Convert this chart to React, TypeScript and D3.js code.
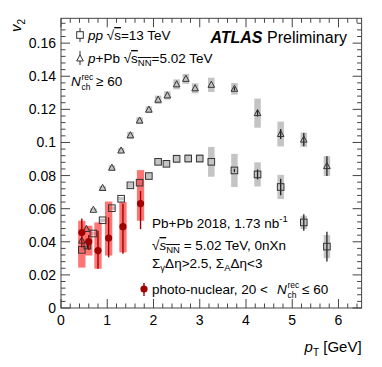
import React from "react";
import * as d3 from "d3";

const W = 382, H = 367;
const X_MAX = 6.5, Y_MAX = 0.175;
const xTicks = [0, 1, 2, 3, 4, 5, 6];
const yTicks = [0, 0.02, 0.04, 0.06, 0.08, 0.1, 0.12, 0.14, 0.16];
const yTickLabels = ["0", "0.02", "0.04", "0.06", "0.08", "0.1", "0.12", "0.14", "0.16"];

// pp 13 TeV
const ppX = [0.45, 0.57, 0.7, 0.9, 1.1, 1.3, 1.5, 1.7, 1.9, 2.1, 2.28, 2.5, 2.75, 3.0, 3.25, 3.75, 4.25, 4.75, 5.25, 5.75];
const ppV = [0.0351, 0.0377, 0.045, 0.053, 0.0603, 0.066, 0.0741, 0.0757, 0.0797, 0.0883, 0.0871, 0.0901, 0.0903, 0.0903, 0.0883, 0.0831, 0.0807, 0.0731, 0.0517, 0.0371];
const ppStat = [0, 0.002, 0, 0, 0, 0, 0, 0, 0, 0, 0, 0, 0, 0, 0, 0.001, 0.003, 0.005, 0.005, 0.009];
const ppSys = [0.001, 0.001, 0.001, 0.001, 0.001, 0.001, 0.0015, 0.002, 0.002, 0.002, 0.002, 0.0025, 0.0025, 0.0025, 0.009, 0.01, 0.0073, 0.0073, 0.004, 0.007];

// p+Pb 5.02 TeV
const pPbX = [0.45, 0.55, 0.7, 0.9, 1.1, 1.3, 1.5, 1.7, 1.9, 2.1, 2.3, 2.5, 2.7, 2.9, 3.25, 3.75, 4.25, 4.75, 5.25, 5.75];
const pPbV = [0.0407, 0.0477, 0.0593, 0.0725, 0.0847, 0.0951, 0.1043, 0.1132, 0.1198, 0.1258, 0.1284, 0.1351, 0.1384, 0.1327, 0.1348, 0.1324, 0.1177, 0.1051, 0.1017, 0.0857];
const pPbStat = [0, 0, 0, 0, 0, 0, 0, 0, 0, 0, 0, 0, 0, 0, 0, 0.001, 0.002, 0.003, 0.004, 0.006];
const pPbSys = [0.001, 0.001, 0.001, 0.0012, 0.0015, 0.0015, 0.002, 0.002, 0.002, 0.0025, 0.0025, 0.003, 0.003, 0.003, 0.0043, 0.0035, 0.0088, 0.0075, 0.0043, 0.006];

// Pb+Pb photo-nuclear
const pnX = [0.45, 0.6, 0.8, 1.03, 1.34, 1.72];
const pnV = [0.0456, 0.0401, 0.0347, 0.0423, 0.0491, 0.0631];
const pnErrUp = [0.0084, 0.004, 0.012, 0.0124, 0.0139, 0.0076];
const pnErrDn = [0.009, 0.005, 0.011, 0.0117, 0.0163, 0.0155];
const pnSysLo = [0.0244, 0.0317, 0.0237, 0.0317, 0.0336, 0.0527];
const pnSysHi = [0.0527, 0.0497, 0.0517, 0.0643, 0.064, 0.0833];

const FONT = "'Liberation Sans', Arial, Helvetica, sans-serif";

function NchLabel({ x, y, suffix }: { x: number; y: number; suffix: string }) {
  return (
    <g>
      <text x={x} y={y} fontSize={13.5} fontStyle="italic">N</text>
      <text x={x + 10.5} y={y - 6.5} fontSize={8.5}>rec</text>
      <text x={x + 10.5} y={y + 4} fontSize={8.5}>ch</text>
      <text x={x + 25} y={y} fontSize={13.5}>{suffix}</text>
    </g>
  );
}

export default function App() {
  const L = 61, R = 361.6, T = 18.3, B = 308;
  const x = d3.scaleLinear().domain([0, X_MAX]).range([L, R]);
  const y = d3.scaleLinear().domain([0, Y_MAX]).range([B, T]);
  const xMinor = d3.range(0, X_MAX + 1e-9, 0.2);
  const yMinor = d3.range(0, Y_MAX + 1e-9, 0.004);
  const bandW = 6.5;
  const redW = 7.3;
  const mk = 3.3;
  const tri = (cx: number, cy: number, s: number) =>
    `M${cx},${cy - s * 1.1} L${cx + s},${cy + s * 0.75} L${cx - s},${cy + s * 0.75} Z`;
  const mkStroke = "#333";

  return (
    <svg width={W} height={H} style={{ position: "absolute", left: 0, top: 0, background: "#fff" }} fontFamily={FONT}>
      <rect x={0} y={0} width={W} height={H} fill="#fff" />
      {pPbX.map((v, i) => (
        <rect key={"pb" + i} x={x(v) - bandW / 2} y={y(pPbV[i] + pPbSys[i])} width={bandW}
          height={y(pPbV[i] - pPbSys[i]) - y(pPbV[i] + pPbSys[i])} fill="#c4c4c4" />
      ))}
      {ppX.map((v, i) => (
        <rect key={"pp" + i} x={x(v) - bandW / 2} y={y(ppV[i] + ppSys[i])} width={bandW}
          height={y(ppV[i] - ppSys[i]) - y(ppV[i] + ppSys[i])} fill="#c4c4c4" />
      ))}
      {pnX.map((v, i) => (
        <rect key={"rb" + i} x={x(v) - redW / 2} y={y(pnSysHi[i])} width={redW}
          height={y(pnSysLo[i]) - y(pnSysHi[i])} fill="#ff3b3b" fillOpacity={0.7} />
      ))}
      {pPbX.map((v, i) => pPbStat[i] > 0 ? (
        <line key={"pbs" + i} x1={x(v)} x2={x(v)} y1={y(pPbV[i] + pPbStat[i])} y2={y(pPbV[i] - pPbStat[i])} stroke="#222" strokeWidth={1.3} />
      ) : null)}
      {ppX.map((v, i) => ppStat[i] > 0 ? (
        <line key={"pps" + i} x1={x(v)} x2={x(v)} y1={y(ppV[i] + ppStat[i])} y2={y(ppV[i] - ppStat[i])} stroke="#222" strokeWidth={1.3} />
      ) : null)}
      {pPbX.map((v, i) => (
        <path key={"pbm" + i} d={tri(x(v), y(pPbV[i]), mk)} fill="none" stroke={mkStroke} strokeWidth={1} />
      ))}
      {ppX.map((v, i) => (
        <rect key={"ppm" + i} x={x(v) - mk} y={y(ppV[i]) - mk} width={mk * 2} height={mk * 2} fill="none" stroke={mkStroke} strokeWidth={1} />
      ))}
      {pnX.map((v, i) => (
        <g key={"pn" + i}>
          <line x1={x(v)} x2={x(v)} y1={y(pnV[i] + pnErrUp[i])} y2={y(pnV[i] - pnErrDn[i])} stroke="#9a0000" strokeWidth={1.4} />
          <circle cx={x(v)} cy={y(pnV[i])} r={3.6} fill="#a00000" />
        </g>
      ))}

      <rect x={L} y={T} width={R - L} height={B - T} fill="none" stroke="#444" strokeWidth={1} />
      {xMinor.map((v, i) => {
        const major = Math.abs(v - Math.round(v)) < 1e-6;
        const len = major ? 9 : 4.5;
        return (
          <g key={"xt" + i}>
            <line x1={x(v)} x2={x(v)} y1={B} y2={B - len} stroke="#444" />
            <line x1={x(v)} x2={x(v)} y1={T} y2={T + len} stroke="#444" />
          </g>
        );
      })}
      {yMinor.map((v, i) => {
        const major = Math.abs(v / 0.02 - Math.round(v / 0.02)) < 1e-6;
        const len = major ? 9 : 4.5;
        return (
          <g key={"yt" + i}>
            <line x1={L} x2={L + len} y1={y(v)} y2={y(v)} stroke="#444" />
            <line x1={R} x2={R - len} y1={y(v)} y2={y(v)} stroke="#444" />
          </g>
        );
      })}
      {xTicks.map((v) => (
        <text key={"xl" + v} x={x(v)} y={B + 17} fontSize={14} textAnchor="middle">{v}</text>
      ))}
      {yTicks.map((v, i) => (
        <text key={"yl" + v} x={L - 5} y={y(v) + 5} fontSize={14} textAnchor="end">{yTickLabels[i]}</text>
      ))}
      <text x={R} y={352} fontSize={15} textAnchor="end">
        <tspan fontStyle="italic">p</tspan><tspan fontSize={10} dy={4}>T</tspan><tspan dy={-4}> [GeV]</tspan>
      </text>
      <text transform={`translate(${21},${19}) rotate(-90)`} fontSize={15} textAnchor="end">
        <tspan fontStyle="italic">v</tspan><tspan fontSize={10} dy={4}>2</tspan>
      </text>

      {/* legend */}
      <line x1={80} x2={80} y1={28} y2={42} stroke="#333" />
      <rect x={80 - mk} y={35 - mk} width={mk * 2} height={mk * 2} fill="#fff" stroke="#333" />
      <text x={88} y={40} fontSize={13.5}>
        <tspan fontStyle="italic">pp</tspan><tspan> √</tspan><tspan style={{ textDecoration: "overline" }}>s</tspan><tspan>=13 TeV</tspan>
      </text>
      <line x1={80} x2={80} y1={51} y2={65} stroke="#333" />
      <path d={tri(80, 58.5, mk)} fill="#fff" stroke="#333" />
      <text x={88} y={63} fontSize={13.5}>
        <tspan fontStyle="italic">p</tspan><tspan>+Pb √</tspan><tspan style={{ textDecoration: "overline" }}>s<tspan fontSize={9.5} dy={3}>NN</tspan></tspan><tspan dy={-3}>=5.02 TeV</tspan>
      </text>
      <NchLabel x={71} y={86} suffix="≥ 60" />

      <text x={347} y={43} fontSize={16} textAnchor="end">
        <tspan fontWeight="bold" fontStyle="italic">ATLAS</tspan><tspan> Preliminary</tspan>
      </text>

      {/* annotation */}
      <text x={152} y={228} fontSize={13.5}>
        Pb+Pb 2018, 1.73 nb<tspan fontSize={9.5} dy={-6}>-1</tspan>
      </text>
      <text x={152} y={250} fontSize={13.5}>
        <tspan>√</tspan><tspan style={{ textDecoration: "overline" }}><tspan fontStyle="italic">s</tspan><tspan fontSize={9.5} dy={3}>NN</tspan></tspan><tspan dy={-3}> = 5.02 TeV, 0nXn</tspan>
      </text>
      <text x={152} y={268} fontSize={13.5}>
        Σ<tspan fontSize={9.5} dy={3}>γ</tspan><tspan dy={-3}>Δη&gt;2.5, Σ</tspan><tspan fontSize={9.5} dy={3}>A</tspan><tspan dy={-3}>Δη&lt;3</tspan>
      </text>
      <line x1={144} x2={144} y1={283} y2={296} stroke="#9a0000" strokeWidth={1.4} />
      <circle cx={144} cy={289} r={3.6} fill="#a00000" />
      <text x={152} y={294} fontSize={13.5}>photo-nuclear, 20 &lt;</text>
      <NchLabel x={277} y={294} suffix="≤ 60" />
    </svg>
  );
}
